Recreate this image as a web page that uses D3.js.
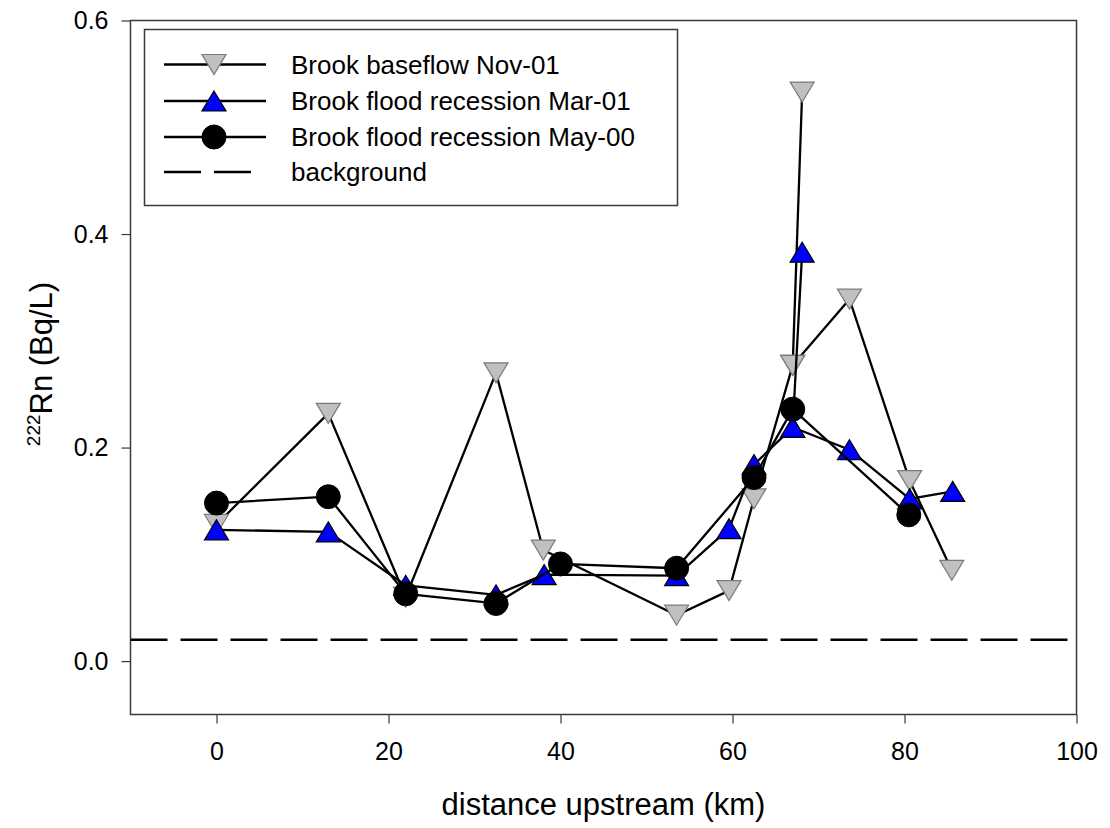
<!DOCTYPE html>
<html><head><meta charset="utf-8">
<script src="https://cdn.jsdelivr.net/npm/d3@7"></script>
<style>
html,body{margin:0;padding:0;background:#fff;}
svg text{font-family:"Liberation Sans",Arial,sans-serif;fill:#000;}
</style></head>
<body><svg id="chart" width="1110" height="828"></svg>
<script>
// ---- data ----
const seriesNames = ["Brook baseflow Nov-01","Brook flood recession Mar-01","Brook flood recession May-00","background"];
const distNov = [0, 13, 22, 32.5, 38, 53.5, 59.6, 62.5, 67, 68.1, 67, 73.6, 80.6, 85.5];
const rnNov   = [0.128, 0.232, 0.060, 0.270, 0.104, 0.043, 0.066, 0.152, 0.277, 0.533, 0.277, 0.339, 0.169, 0.085];
const distMar = [0, 13, 22, 32.5, 38.1, 53.5, 59.6, 62.5, 67, 68.1, 67, 73.6, 80.6, 85.6];
const rnMar   = [0.123, 0.121, 0.071, 0.062, 0.081, 0.080, 0.124, 0.184, 0.219, 0.383, 0.219, 0.198, 0.152, 0.159];
const distMay = [0, 13, 22, 32.5, 40, 53.5, 62.5, 67, 80.5];
const rnMay   = [0.148, 0.154, 0.063, 0.054, 0.091, 0.087, 0.172, 0.236, 0.137];
const background = 0.02;
const xTicks = [0, 20, 40, 60, 80, 100];
const yTicks = [0.0, 0.2, 0.4, 0.6];
const xDomain = [-10, 100];
const yDomain = [-0.05, 0.6];

// ---- layout ----
const svg = d3.select("#chart");
const L = 130.5, R = 1076.5, T = 20.5, B = 714.5;
const x = d3.scaleLinear().domain(xDomain).range([L, R]);
const y = d3.scaleLinear().domain(yDomain).range([B, T]);
const axisColor = "#3a3a3a";

svg.append("defs").append("clipPath").attr("id","clip")
  .append("rect").attr("x",L).attr("y",T).attr("width",R-L).attr("height",B-T);

// axes
const gx = svg.append("g").attr("transform",`translate(0,${B})`)
  .call(d3.axisBottom(x).tickValues(xTicks).tickSize(9).tickPadding(19).tickFormat(d3.format("d")));
gx.select(".domain").remove();
gx.selectAll(".tick line").attr("stroke",axisColor).attr("stroke-width",1.2);
gx.selectAll(".tick text").attr("font-size",25).attr("font-family","Liberation Sans, Arial");

const gy = svg.append("g").attr("transform",`translate(${L},0)`)
  .call(d3.axisLeft(y).tickValues(yTicks).tickSize(9).tickPadding(13).tickFormat(d3.format(".1f")));
gy.select(".domain").remove();
gy.selectAll(".tick line").attr("stroke",axisColor).attr("stroke-width",1.2);
gy.selectAll(".tick text").attr("font-size",25).attr("font-family","Liberation Sans, Arial");

// frame
svg.append("rect").attr("x",L).attr("y",T).attr("width",R-L).attr("height",B-T)
  .attr("fill","none").attr("stroke",axisColor).attr("stroke-width",1.5);

// axis titles
svg.append("text").attr("x",(L+R)/2).attr("y",815).attr("text-anchor","middle")
  .attr("font-size",31).text("distance upstream (km)");
const yt = svg.append("text").attr("transform",`translate(52,364) rotate(-90)`).attr("text-anchor","middle");
yt.append("tspan").attr("font-size",19).attr("dy",-12).text("222");
yt.append("tspan").attr("font-size",31).attr("dy",12).text("Rn (Bq/L)");

// plot content
const plot = svg.append("g").attr("clip-path","url(#clip)");

// background dashed line
plot.append("line").attr("x1",x(xDomain[0])).attr("x2",x(xDomain[1]))
  .attr("y1",y(background)).attr("y2",y(background))
  .attr("stroke","#000").attr("stroke-width",2.3).attr("stroke-dasharray","37,13");

// marker shapes
const MW = 24, MH = 20, MR = 12;
const triDown = `M${-MW/2},${-MH/2}L${MW/2},${-MH/2}L0,${MH/2}Z`;
const triUp = `M0,${-MH/2}L${MW/2},${MH/2}L${-MW/2},${MH/2}Z`;

const series = [
  {xs: distNov, ys: rnNov, shape: "down", fill: "#c0c0c0", stroke: "#7a7a7a"},
  {xs: distMar, ys: rnMar, shape: "up", fill: "#0000ff", stroke: "#000"},
  {xs: distMay, ys: rnMay, shape: "circle", fill: "#000", stroke: "#000"}
];
const line = d3.line().x(d => x(d[0])).y(d => y(d[1]));

function drawMarker(g, s, cx, cy) {
  if (s.shape === "circle") {
    g.append("circle").attr("cx",cx).attr("cy",cy).attr("r",MR)
      .attr("fill",s.fill).attr("stroke",s.stroke).attr("stroke-width",1);
  } else {
    g.append("path").attr("d", s.shape === "up" ? triUp : triDown)
      .attr("transform",`translate(${cx},${cy})`)
      .attr("fill",s.fill).attr("stroke",s.stroke).attr("stroke-width",1.2);
  }
}

series.forEach(s => {
  const pts = s.xs.map((d,i) => [d, s.ys[i]]);
  plot.append("path").datum(pts).attr("d",line)
    .attr("fill","none").attr("stroke","#000").attr("stroke-width",2.3).attr("stroke-linejoin","round");
  const g = plot.append("g");
  pts.forEach(p => drawMarker(g, s, x(p[0]), y(p[1])));
});

// legend
const lg = svg.append("g");
lg.append("rect").attr("x",144.5).attr("y",29.5).attr("width",533).attr("height",176)
  .attr("fill","#fff").attr("stroke",axisColor).attr("stroke-width",1.5);
const rowY = [64.5, 101, 137, 172];
seriesNames.forEach((name, i) => {
  const ry = rowY[i];
  if (i < 3) {
    lg.append("line").attr("x1",164).attr("x2",266).attr("y1",ry).attr("y2",ry)
      .attr("stroke","#000").attr("stroke-width",2.3);
    drawMarker(lg, series[i], 214, ry);
  } else {
    lg.append("line").attr("x1",164).attr("x2",251).attr("y1",ry).attr("y2",ry)
      .attr("stroke","#000").attr("stroke-width",2.3).attr("stroke-dasharray","37,13");
  }
  lg.append("text").attr("x",291).attr("y",ry+9).attr("font-size",26).text(name);
});
</script>
</body></html>
